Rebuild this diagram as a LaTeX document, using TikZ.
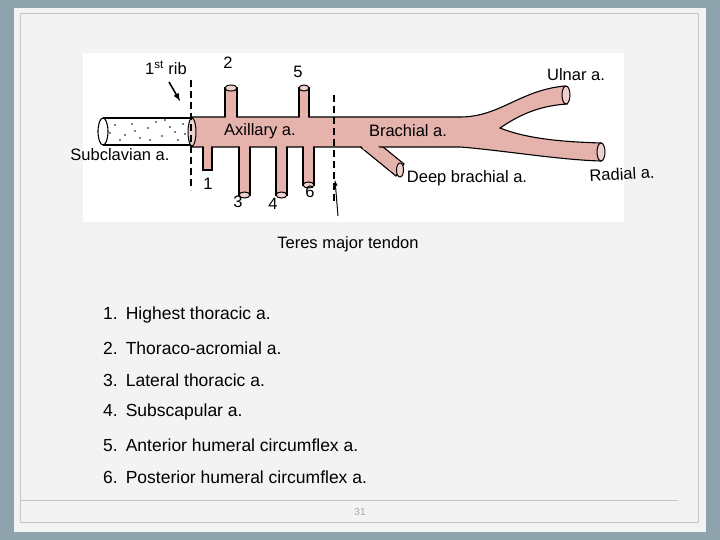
\documentclass[tikz,border=0pt]{standalone}
\usepackage{fontspec}
\setmainfont{Liberation Sans}
\begin{document}
\begin{tikzpicture}[x=1pt,y=-1pt,
  vessel/.style={fill=vesc,draw=black,line width=1.1pt},
  lab/.style={font=\fontsize{16.5}{18}\selectfont,inner sep=0pt},
  item/.style={font=\fontsize{17.5}{20}\selectfont,inner sep=0pt,anchor=west},
  cut/.style={dashed,line width=1.6pt,dash pattern=on 7pt off 4pt},
  endc/.style={fill=vesc!60,draw=black,line width=1pt}]
\definecolor{vesc}{HTML}{E6B2AC}
\definecolor{bgc}{HTML}{8FA3AD}
\definecolor{panel}{HTML}{F3F3F3}
\useasboundingbox (0,0) rectangle (720,540);
\fill[bgc] (0,0) rectangle (720,540);
\fill[panel] (14,8) rectangle (706,532);
\draw[gray!45,line width=1pt] (20,14) rectangle (698,522);
\draw[gray!45,line width=1pt] (20,500) -- (678,500);
\node[font=\fontsize{10}{12}\selectfont,text=gray!70] (pg) at (360,512) {31};
\fill[white] (83,53) rectangle (624,222);
% branches up
\draw[vessel] (225,120) -- (225,88) -- (237,88) -- (237,120);
\draw[endc] (231,88) ellipse (6 and 3);
\draw[vessel] (299,120) -- (299,88) -- (309,88) -- (309,120);
\draw[endc] (304,88) ellipse (5 and 3);
% branches down
\draw[vessel] (203,140) -- (203,170) -- (212,170) -- (212,140);
\draw[vessel] (239,140) -- (239,195) -- (250,195) -- (250,140);
\draw[endc] (244.5,195) ellipse (5.5 and 3);
\draw[vessel] (276,140) -- (276,195) -- (287,195) -- (287,140);
\draw[endc] (281.5,195) ellipse (5.5 and 3);
\draw[vessel] (303,140) -- (303,185) -- (314,185) -- (314,140);
\draw[endc] (308.5,185) ellipse (5.5 and 3);
% deep brachial
\draw[vessel] (358,145) -- (396,176) -- (404,164) -- (377,142);
\draw[endc] (400,170) ellipse (3.5 and 7);
% main trunk
\draw[vessel] (192,117) -- (460,117) .. controls (500,117) and (520,90) .. (565,86)
  -- (567,104) .. controls (535,106) and (515,118) .. (500,128)
  .. controls (530,140) and (570,142) .. (601,143)
  -- (601,161) .. controls (560,160) and (500,150) .. (460,147) -- (192,147) -- cycle;
\draw[endc] (566,95) ellipse (4 and 9);
\draw[endc] (601,152) ellipse (4 and 9);
\fill[vesc] (226,116) rectangle (236,122);
\fill[vesc] (300,116) rectangle (308,122);
\fill[vesc] (204,144) rectangle (211,149);
\fill[vesc] (240,144) rectangle (249,149);
\fill[vesc] (277,144) rectangle (286,149);
\fill[vesc] (304,144) rectangle (313,149);
\fill[vesc] (360,143) -- (376,143) -- (380,149) -- (364,150) -- cycle;
% subclavian tube
\draw[fill=white,line width=1.1pt] (103,118) -- (192,118) -- (192,145) -- (103,145);
\draw[fill=white,line width=1.1pt] (103,131.5) ellipse (5 and 13.5);
\draw[endc] (192,132) ellipse (4 and 14);
\foreach \px/\py in {115/125,125/135,132/124,140/138,148/128,156/122,162/136,170/127,178/140,183/124,120/140,150/140,165/120,135/131,175/132,110/133,185/134}
  \fill (\px,\py) circle (0.8);
% cut lines
\draw[cut] (191,80) -- (191,190);
\draw[cut] (334,95) -- (334,204);
% labels
\node[lab] (rib) at (166,68) {1\textsuperscript{st} rib};
\coordinate (ribtip) at (180,101);
\draw[-latex,line width=1.6pt] (169,82) -- (ribtip);
\node[lab] (n2) at (228,63) {2};
\node[lab] (n5) at (298,72) {5};
\node[lab] (ul) at (576,75) {Ulnar a.};
\node[lab] (ax) at (260,131) {Axillary a.};
\node[lab] (br) at (408,131) {Brachial a.};
\node[lab] (sc) at (120,155) {Subclavian a.};
\node[lab] (n1) at (208,184) {1};
\node[lab] (n3) at (238,202) {3};
\node[lab] (n4) at (273,204) {4};
\node[lab] (n6) at (310,192) {6};
\node[lab] (db) at (467,178) {Deep brachial a.};
\node[lab,rotate=3] (rad) at (622,174) {Radial a.};
\node[lab] (tm) at (348,244) {Teres major tendon};
\coordinate (tmtail) at (338,216);
\coordinate (tmtip) at (335,180);
\draw[-latex,line width=1pt] (tmtail) -- (tmtip);
% list
\foreach \i/\t/\y in {1/Highest thoracic a./315,2/Thoraco-acromial a./348,3/Lateral thoracic a./380,4/Subscapular a./412,5/Anterior humeral circumflex a./445,6/Posterior humeral circumflex a./477}
  \node[item] (it\i) at (103,\y) {\i.\hspace{8pt}\t};
\end{tikzpicture}
\end{document}
